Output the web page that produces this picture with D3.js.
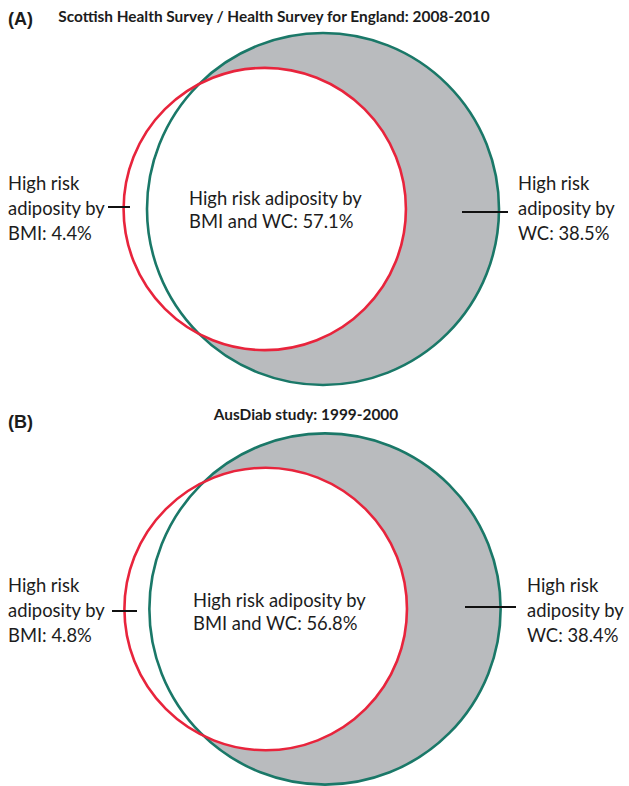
<!DOCTYPE html>
<html>
<head>
  <script src="https://d3js.org/d3.v7.min.js"></script>
  <style>
    body { margin: 0; background: #fff; }
    text { font-family: Lato, "Open Sans", sans-serif; fill: #1c1c1c; }
    .title { font-weight: bold; }
    .tag { font-family: "Liberation Sans", Arial, sans-serif; font-weight: bold; }
  </style>
</head>
<body>
<div id="vis"></div>
<script>
// panel data: percentages of the high risk adiposity group
const panels = ["A", "B"];
const titles = ["Scottish Health Survey / Health Survey for England: 2008-2010", "AusDiab study: 1999-2000"];
const bmiOnly = [4.4, 4.8];
const both = [57.1, 56.8];
const wcOnly = [38.5, 38.4];

const width = 629;
const height = 786;
const teal = "#1a7868";
const red = "#e8243c";
const grey = "#b9bbbe";

// radius from total set size (area proportional)
const r = d3.scaleSqrt().domain([0, 95.6]).range([0, 176]);

// overlap area of two circles at distance d
function overlap(r1, r2, d) {
  if (d >= r1 + r2) return 0;
  if (d <= Math.abs(r1 - r2)) return Math.PI * Math.min(r1, r2) ** 2;
  const a = (d * d + r1 * r1 - r2 * r2) / (2 * d);
  const b = d - a;
  return r1 * r1 * Math.acos(a / r1) - a * Math.sqrt(r1 * r1 - a * a)
       + r2 * r2 * Math.acos(b / r2) - b * Math.sqrt(r2 * r2 - b * b);
}
// find centre distance so the overlap matches the shared share
function distance(r1, r2, target) {
  let lo = Math.abs(r1 - r2), hi = r1 + r2;
  for (let i = 0; i < 60; i++) {
    const mid = (lo + hi) / 2;
    if (overlap(r1, r2, mid) > target) lo = mid; else hi = mid;
  }
  return (lo + hi) / 2;
}

const layout = [
  { cx: 323, cy: 209,
    left: { x: 8, y: 190, tick: [108, 130, 207] },
    mid: { x: 189, y: 205 },
    right: { x: 518, y: 190, tick: [462, 508, 212] },
    titleX: 274, titleY: 22, tagY: 25 },
  { cx: 325, cy: 609,
    left: { x: 8, y: 592, tick: [112, 137, 611] },
    mid: { x: 193, y: 607 },
    right: { x: 527, y: 592, tick: [465, 516, 607] },
    titleX: 306, titleY: 420, tagY: 428 }
];

const svg = d3.select("#vis").append("svg")
  .attr("width", width)
  .attr("height", height);

const defs = svg.append("defs");

panels.forEach((p, i) => {
  const L = layout[i];
  const rWC = r(both[i] + wcOnly[i]);
  const rBMI = r(both[i] + bmiOnly[i]);
  const scale = Math.PI * rWC * rWC / (both[i] + wcOnly[i]);
  const d = distance(rWC, rBMI, both[i] * scale);
  const bx = L.cx - d;

  const g = svg.append("g");

  defs.append("mask").attr("id", "m" + p)
    .call(m => {
      m.append("rect").attr("width", width).attr("height", height).attr("fill", "#fff");
      m.append("circle").attr("cx", bx).attr("cy", L.cy).attr("r", rBMI).attr("fill", "#000");
    });

  // WC only area
  g.append("circle")
    .attr("cx", L.cx).attr("cy", L.cy).attr("r", rWC)
    .attr("fill", grey)
    .attr("mask", "url(#m" + p + ")");

  g.append("circle")
    .attr("cx", L.cx).attr("cy", L.cy).attr("r", rWC)
    .attr("fill", "none").attr("stroke", teal).attr("stroke-width", 2.6);

  g.append("circle")
    .attr("cx", bx).attr("cy", L.cy).attr("r", rBMI)
    .attr("fill", "none").attr("stroke", red).attr("stroke-width", 2.6);

  g.append("text").attr("class", "tag")
    .attr("x", 8).attr("y", L.tagY)
    .style("font-size", "18px")
    .text("(" + p + ")");

  g.append("text").attr("class", "title")
    .attr("x", L.titleX).attr("y", L.titleY)
    .attr("text-anchor", "middle")
    .style("font-size", "15.4px")
    .text(titles[i]);

  function label(pos, lines, lh) {
    const t = g.append("text").attr("x", pos.x).attr("y", pos.y).style("font-size", "18.4px");
    lines.forEach((s, k) => t.append("tspan").attr("x", pos.x).attr("y", pos.y + k * lh).text(s));
  }
  label(L.left, ["High risk", "adiposity by", "BMI: " + bmiOnly[i] + "%"], 25);
  label(L.mid, ["High risk adiposity by", "BMI and WC: " + both[i] + "%"], 23);
  label(L.right, ["High risk", "adiposity by", "WC: " + wcOnly[i] + "%"], 25);

  [L.left.tick, L.right.tick].forEach(t => {
    g.append("line")
      .attr("x1", t[0]).attr("x2", t[1]).attr("y1", t[2]).attr("y2", t[2])
      .attr("stroke", "#111").attr("stroke-width", 2);
  });
});
</script>
</body>
</html>
